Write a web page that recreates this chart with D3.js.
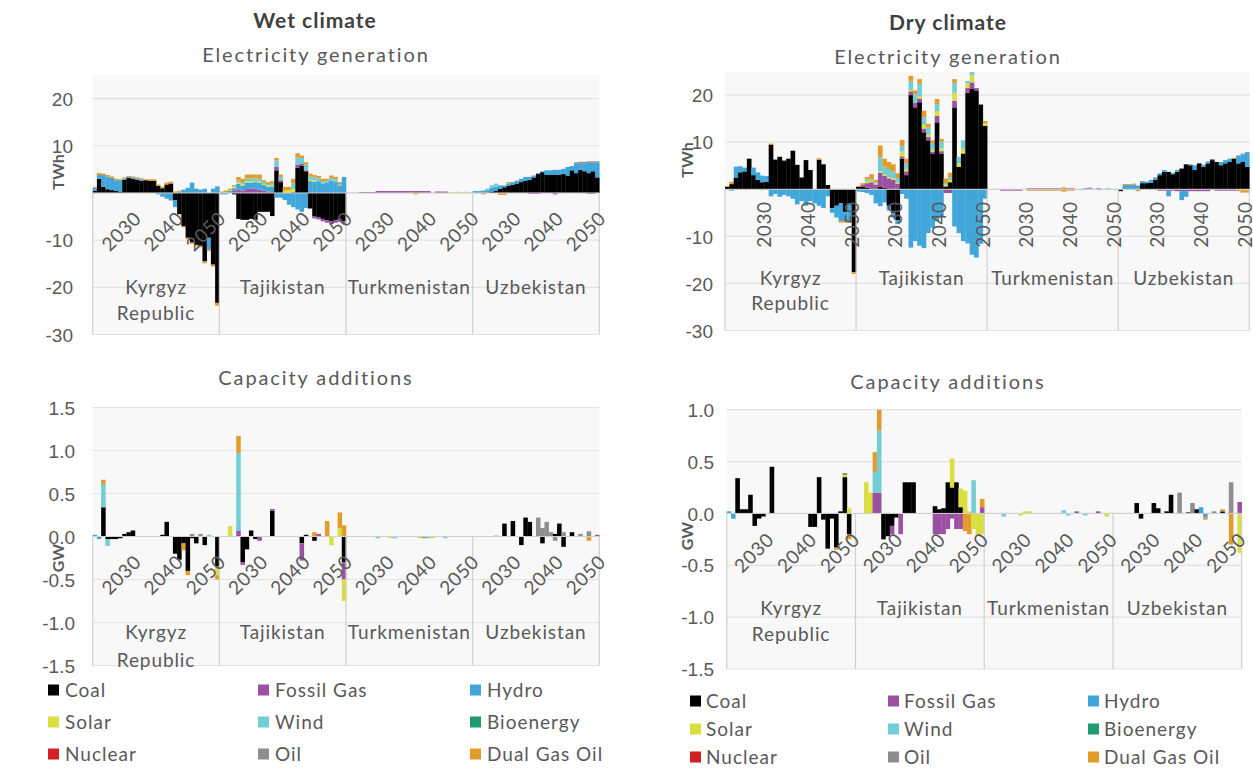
<!DOCTYPE html>
<html>
<head>
<meta charset="utf-8">
<script src="https://cdn.jsdelivr.net/npm/d3@7"></script>
<style>
  body { margin: 0; background: #ffffff; }
  svg { display: block; font-family: Lato, "Noto Sans", "DejaVu Sans", sans-serif; }
</style>
</head>
<body>
<svg id="chart" width="1253" height="769"></svg>
<script>
// ---------------------------------------------------------------------------
// Categories
// ---------------------------------------------------------------------------
const countries = ["Kyrgyz Republic", "Tajikistan", "Turkmenistan", "Uzbekistan"];
const countryLines = [["Kyrgyz", "Republic"], ["Tajikistan"], ["Turkmenistan"], ["Uzbekistan"]];
const years = [2021, 2022, 2023, 2024, 2025, 2026, 2027, 2028, 2029, 2030,
               2031, 2032, 2033, 2034, 2035, 2036, 2037, 2038, 2039, 2040,
               2041, 2042, 2043, 2044, 2045, 2046, 2047, 2048, 2049, 2050];
const yearLabels = [2030, 2040, 2050];
const technologies = ["Coal", "Fossil Gas", "Hydro", "Solar", "Wind", "Bioenergy", "Nuclear", "Oil", "Dual Gas Oil"];
const techColors = ["#000000", "#9c50a4", "#41a6da", "#d9df3f", "#72cdd6", "#1f9a73", "#d22027", "#8e8e8e", "#e39b2c"];

const genTicks = [20, 10, 0, -10, -20, -30];
const wetCapTicks = [1.5, 1.0, 0.5, 0.0, -0.5, -1.0, -1.5];
const dryCapTicks = [1.0, 0.5, 0.0, -0.5, -1.0, -1.5];

// ---------------------------------------------------------------------------
// Wet climate - electricity generation, TWh (Kyrgyz | Tajikistan | Turkmenistan | Uzbekistan)
// ---------------------------------------------------------------------------
const wetGenCoal = [
  0.5,3.0,1.3,0.8,0.6,0.5,0.3,2.8,3.2,3.0, 2.8,2.6,2.7,2.6,2.6,1.5,1.0,1.8,2.0,-1.5, -4.5,-7.0,-9.5,-10.5,-11.0,-11.2,-14.5,-9.5,-15.2,-23.3,
  0,0,0,-0.3,-5.5,-5.7,-5.7,-5.5,-5.7,-4.0, -4.0,-4.0,-4.9,4.8,2.3,0,0,0,5.3,5.8, 4.6,-3.3,-5.0,-5.2,-5.5,-5.8,-6.0,-5.8,-5.5,-6.0,
  0,0,0,0,0,0,0,0,0,0, 0,0,0,0,0,0,0,0,0,0, 0,0,0,0,0,0,0,0,0,0,
  0,0,0,0,0.3,0.4,0.9,1.2,1.5,1.7, 2.0,2.3,2.6,2.8,3.3,4.0,4.4,3.8,3.8,3.9, 3.9,4.0,3.7,4.8,4.2,4.9,4.6,4.2,4.6,3.3];
const wetGenGas = [
  0,0,0,0,0,0,0,0,0,0, 0,0,0,0,0,0,0,0,0,0, 0,0,0,0,0,0,0,0,0,0,
  0,0,0,0.4,0.7,0.5,0.8,0.9,0.9,0.7, 0.5,0.3,0.2,0.7,0.4,0,0,0.2,0.7,0.4, 0.2,0,-0.4,-0.4,-0.5,-0.5,-0.6,-0.5,-0.6,-0.6,
  0,0,0,0.2,0.2,0.2,0.2,0.4,0.4,0.4, 0.4,0.4,0.4,0.4,0.4,0.4,0.4,0.4,0.4,0.4, 0,0.3,0.3,0.3,0,0,0,0,0,0,
  0,0,0,0,0,0,0,0,0,0, 0,0,0,-0.2,-0.2,-0.2,0,0,0,-0.3, 0,0,0,0,0,0,0,-0.2,-0.2,0];
const wetGenHydro = [
  0.6,0.8,2.5,2.7,2.6,2.2,2.4,0.3,0.2,0.3, 0.3,0.3,0,0,0,-0.3,-0.8,-1.2,-1.6,-1.5, 0.3,0.7,1.1,2.2,0.9,0.7,0.9,-2.5,0.9,1.4,
  -0.3,-0.3,0.4,0.6,1.2,1.0,1.4,1.3,1.4,1.5, 1.2,1.0,1.2,-1.0,-1.0,-1.5,-2.5,-3.0,-3.5,-4.0, -3.2,2.5,2.4,2.5,2.0,2.1,2.6,2.3,1.5,3.4,
  0,0,0,0,0,0,0,0,0,0, 0,0,0,0,0,0,0,0,0,0, 0,0,0,0,0,0,0,0,0,0,
  0.4,0.4,0.5,0.6,0.8,0.9,0.7,0.4,0.5,0.6, 0.6,0.7,0.8,0.6,0.4,0.2,0.2,1.0,1.0,1.0, 1.0,1.1,1.8,0.9,2.0,1.4,1.7,2.2,1.8,3.1];
const wetGenSolar = [
  0,0,0,0,0,0,0,0,0,0, 0,0,0,0,0,0,0,0,0,0, 0,0,0,0,0,0,0,0,0,0,
  0,0.2,0.2,0.3,0.3,0.3,0.3,0.3,0.2,0.2, 0.2,0.3,0.3,0,0,0.5,0.6,0.6,0,0, 0,0.3,0.3,0,0,0,0,0,0,0,
  0,0,0,0,0,0,0,0,0,0, 0,0,0,0,0,0,0,0,0,0, 0,0,0,0,0.15,0.15,0.15,0.15,0.15,0.15,
  0,0,0,0,0,0,0,0,0,0, 0,0,0,0,0,0,0,0,0,0, 0,0,0,0,0,0,0,0,0,0];
const wetGenWind = [
  0,0,0,0,0,0,0,0,0,0, 0,0,0,0,0,0,0,0,0,0, 0,0,0,0,0,0,0,0,0,0,
  0,0,0,0.2,0.4,0.4,0.6,0.6,0.6,0.6, 0.4,0.3,0.4,1.4,0.7,0,0,1.2,1.5,1.2, 1.2,0.7,0.7,0.6,0.5,0.5,0.6,0.6,0.4,0,
  0,0,0,0,0,0,0,0,0,0, 0,0,0,0,0,0,0,0,0,0, 0,0,0,0,0,0,0.1,0,0.1,0,
  0,0,0,0.3,0.5,0.7,0,0,0,0, 0,0,0,0,0,0,0,0,0,0, 0,0,0,0,0,0,0,0,0,0];
const wetGenBioenergy = [];
const wetGenNuclear = [];
const wetGenOil = [
  0,0,0,0,0,0,0,0,0,0, 0,0,0,0,0,0,0,0,0,0, 0,0,0,0,0,0,0,0,0,0,
  0,0,0,0,0,0,0,0,0,0, 0,0,0,0,0,0,0,0,0,0, 0,0,0,0,0,0,0,0,0,0,
  0,0,0,0,0,0,0,0,0,0, 0,0,0,0,0,0,0,0,0,0, 0,0,0,0,0,0,0,0,0,0,
  0,0,0,0,0,0,0,0,0,0, 0,0,0,0,0,0,0,0,0,0, 0,0,0,0,0.3,0.3,0.3,0.3,0.3,0.3];
const wetGenDual = [
  0.2,0.4,0.3,0.3,0.3,0.3,0.2,0.2,0.2,0.2, 0.2,0.2,0.2,0.3,0.3,0.3,0.3,0.4,0.4,0.3, 0.2,-0.3,-0.3,-0.3,-0.3,-0.3,-0.4,-0.3,-0.4,-0.6,
  0.3,0.3,0.3,0.2,0.8,0.8,0.8,0.8,0.8,0.9, 0.4,0.4,0.4,0.5,0.5,0.8,0.7,1.0,0.9,0.5, 0.5,0.6,0.4,0.5,0.5,0.4,0.5,0.5,0.4,0,
  0,0,0,0,0,0,0,0,0,0, 0,0,0,0,0,0,-0.3,0,0,0, 0,0,0,0,0,0,0,0,0,0,
  0,0,-0.3,0,0,0,-0.4,-0.4,0.3,0, 0,0,0,0,0,0,0,0,0,0, 0,0,0,0,0,0,0,0,0,0];

// ---------------------------------------------------------------------------
// Wet climate - capacity additions, GW
// ---------------------------------------------------------------------------
const wetCapCoal = [
  0,0,0.34,-0.03,-0.03,-0.03,-0.02,0.03,0.05,0.07, 0,0,0,0,0,0,0.02,0.17,0,-0.2, -0.27,-0.08,-0.4,-0.02,-0.08,0,-0.1,0,0,-0.35,
  0,0,0,0,0,-0.3,-0.15,0.07,-0.03,0, 0,0,0.3,0,0,0,0,0,0,-0.08, 0.02,0,-0.05,0,0,0,0,0,0,-0.3,
  0,0,0,0,0,0,0,0,0,0, 0,0,0,0,0,0,0,0,0,0, 0,0,0,0,0,0,0,0,0,0,
  0,0,0,0,0,0,0,0.15,0,0.18, 0,-0.1,0.22,0.17,0,0,-0.08,0,0,0.03, 0.15,-0.12,0,0.05,0,0,0,0,0,0];
const wetCapGas = [
  0,0,0,0,0,0,0,0,0,0, 0,0,0,0,0,0,0,0,0,0, 0,0,0,0,0,0,0,0,0,0,
  0,0,0,0,0.07,-0.03,0,0,0,-0.05, 0,0,0.02,0,0,0,0,0,0,-0.2, 0,0,0,0.03,0,0,0,0,0,-0.2,
  0,0,0,0,0,0,0,0,0,0, 0,0,0,0,0,0,0,0,0,0, 0,0,0,0,0,0,0,0,0,0,
  0,0,0,0,0,0,0,0,0,0, 0,0,0,0,0,0,0,0,0,0, 0,0,0,0,0,0,0,0,0,0.02];
const wetCapHydro = [
  0.02,-0.03,0,0,0,0,0,0,0,0, 0,0,0,0,0,0,0,0,0,0, 0,0,0,0,0,0,0,0,0,0,
  0,0,0,0,0,0,0,0,0,0, 0,0,0,0,0,0,0,0,0,0, 0,0,0,0,0,0,0,0,0,0,
  0,0,0,0,0,0,0,0,0,0, 0,0,0,0,0,0,0,0,0,0, 0,0,0,0,0,0,0,0,0,0,
  0,0,0,0,0,0,0,0,0,0, 0,0,0,0,0,0,0,0,0,0, 0,0,0,0,0,0,0,0,0,0];
const wetCapSolar = [
  0,0,0,0,0,0,0,0,0,0, 0,0,0,0,0,0,0,0,0,0, 0,0,0,0,0,0,0,0,0,-0.1,
  0,0,0.12,0,0,0,0,0,0,0, 0,0,0,0,0,0,0,0,0,0, 0,0,0,0,0,0,-0.1,0,0.1,-0.25,
  0,0,0,0,0,0,0,0,0,0, -0.02,0,0,0,0,0,0,-0.02,0,0, -0.02,0,0,0,0,0,0,0,0,0,
  0,0,0,0,0,0,0,0,0,0, 0,0,0,0,0,0,0,0,0,0, 0,0,0,0,0,0,0,0,0,0];
const wetCapWind = [
  0,0,0.27,-0.08,0,0,0,0,0,0, 0,0,0,0,0,0,0,0,0,0, 0,0,0,0,0,0,0,0.02,0,0,
  0,0,0,0,0.9,0,0,0,0,0, 0,0,0,0,0,0,0,0,0,0, 0,0,0,0,0,0,0,0,0,0,
  0,0,0,0,0,0,0,-0.02,0,0, 0,-0.02,0,0,0,0,0,0,0,-0.02, 0,0,0,-0.02,0,0,0,0,0,0,
  0,0,0,0,0,0,0,0,0,0, 0,0,0,0,0,0,0,0,0,0, 0,0,0,0,0,0,0,0,0,0];
const wetCapBioenergy = [];
const wetCapNuclear = [];
const wetCapOil = [
  0,0,0,0,0,0,0,0,0,0, 0,0,0,0,0,0,0,0,0,0, 0,0,0,0.03,0,0.03,0,0,0,0,
  0,0,0,0,0,0,0,0,0,0, 0,0,0,0,0,0,0,0,0,0, 0,0,0,0,0,0,0,0,0,0,
  0,0,0,0,0,0,0,0,0,0, 0,0,0,0,0,0,0,0,-0.02,0, 0,0,0,0,0,0,0,0,0,0,
  0,0,0,0,0,0.01,0,0,0,0, 0,0,0,0,0,0.22,0.1,0.17,0.05,-0.05, 0,0.05,0,0,0,0.03,0,0.06,0,0];
const wetCapDual = [
  0,0,0.05,0,0,0,0,0,0,0, 0,0,0,0,0,0,0,0,0,0, 0,-0.08,-0.05,0,0,0,0,0,0,-0.05,
  0,0,0,0,0.2,0,0,0,0,0, 0,0,0,0,0,0,0,0,0,0, 0,0,0.05,0,0,0.18,0,0,0.18,0.13,
  0,0,0,0,0,0,0,0,0,0, 0,0,0,0,0,0,0,0,0,0, 0,0,0,0,0,0,0,0,0,0,
  0,0,0,0,0,0,0,0,0,0, 0,0,0,0,0,0,0,0,0,0, 0,0,0,0,0,0,0,-0.05,0,0];

// ---------------------------------------------------------------------------
// Dry climate - electricity generation, TWh
// ---------------------------------------------------------------------------
const dryGenCoal = [
  0.5,1.1,2.5,3.6,3.8,6.5,3.0,2.0,1.5,1.6, 9.5,6.3,6.9,6.1,6.5,8.2,5.2,2.5,6.2,4.1, 0,6.3,5.3,0.9,-4.0,-3.5,-3.0,-4.8,-3.0,-17.6,
  0.5,0.5,0.3,0,0,0.5,0.3,-3.5,-5.0,-6.6, 6.5,3.0,20.0,17.4,18.5,12.1,10.4,7.6,14.2,7.6, 0.6,1.5,17.4,4.8,7.6,20.5,21.3,21.0,18.0,13.5,
  0,0,0,0,0,0,0,0,0,0, 0,0,0,0,0,0,0,0,0,0, 0,0,0,0,0,0,0,0,0,0,
  -0.4,0,0,0,0,1.3,1.3,1.4,2.0,3.0, 3.7,3.7,3.2,3.7,4.4,5.3,5.1,4.1,5.5,4.8, 5.5,6.2,5.8,5.1,5.5,5.8,6.5,5.5,5.8,4.8];
const dryGenGas = [
  0,0,0,0,0,0,0,0,0,0, 0,0,0,0,0,0,0,0,0,0, 0,0,0,0,0,0,0,0,0,0,
  0,0.4,1.0,1.5,1.0,3.0,2.6,2.3,2.0,1.2, 0.5,0.8,0.8,1.0,0.8,0.8,0.7,0.4,1.4,0.5, -0.8,-0.8,1.4,0,0,1.0,1.4,0.5,0,0,
  0,0,0,-0.3,-0.3,-0.3,-0.3,-0.3,0,0.2, 0.2,0.2,0.2,0.2,0.2,0.2,0.2,0.2,0.2,0.2, 0,0,0.2,0.2,0,0.2,0,0,0,0,
  0,0,0,0,0,0,0,0,0,-0.3, -0.3,-0.3,-0.3,-0.4,-0.4,-0.4,-0.4,-0.4,-0.4,-0.4, -0.4,0.2,-0.3,-0.3,-0.3,-0.3,-0.3,0,0,0];
const dryGenHydro = [
  0,-0.3,2.3,1.3,0.8,0,1.6,1.6,1.4,1.2, -1.5,-1.0,-1.6,-1.2,-1.5,-2.0,-3.2,-2.5,-3.5,-2.5, -3.0,-3.5,-4.0,-1.5,-1.0,-2.5,-3.8,-2.0,-3.8,0,
  -0.5,-0.6,-0.8,-1.2,-3.0,-3.6,-2.8,-1.0,-1.0,-0.8, -1.0,-2.0,-12.4,-11.0,-12.0,-12.5,-9.3,-8.2,-6.8,-5.8, 0,0,-7.9,-9.3,-11.0,-11.5,-13.9,-14.5,-11.6,-2.0,
  0,0,0,0,0,0,0,0,0,0, 0,0,0,0,0,0,0,0,0,0, 0,0,0,0,0,0,0,0,0,0,
  0,0.9,0.9,1.0,0.8,0.45,0.3,0.6,0.5,0.4, 0.4,-1.2,0.3,0.4,-1.9,-1.2,0.2,1.0,0,0.4, 0.4,0,0,0.7,0.7,0.7,0,1.7,1.6,3.1];
const dryGenSolar = [
  0,0,0,0,0,0,0,0,0,0, 0,0,0,0,0,0,0,0,0,0, 0,0,0,0,0,0,0,0,0,0,
  0,0,0.4,0.3,0.3,0.3,0.3,0.3,0.3,0.2, 1.0,0.5,0.3,0,0.5,0.8,0.5,0.4,1.0,0.6, 0.4,0.5,1.7,0.7,1.0,1.0,1.5,0,0,0.5,
  0,0,0,0,0,0,0,0,0,0, 0,0,0,0,0,0,0,0.3,0,0, 0,0,0,0,0,0,0,0,0,0,
  0,0,0,0,0,0,0,0,0,0, 0,0,0,0,0,0,0,0,0,0, 0,0,0,0,0,0,0,0,-0.2,-0.2];
const dryGenWind = [
  0,0,0,0,0,0,0,0,0,0, 0,0,0,0,0,0,0,0,0,0, 0,0,0,0,0,0,0,0,0,0,
  0,0,0.4,0.4,0.2,3.0,1.6,1.7,1.5,1.0, 1.2,1.2,1.8,1.8,2.6,1.6,1.5,1.4,1.5,1.4, 0.3,0.5,2.1,1.4,1.8,0.5,0.7,0,0,0,
  0,0,0,0,0,0,0,0,0,0, 0,0,0,0,0,0,0,0,0,0, 0,-0.2,0,0.2,0,-0.2,0,0.2,0,-0.2,
  0,0,0,0,0,0,0,0,0,0, 0,0,0,0,0,0,0,0,0,0, 0,0,0,0,0,0,0,0,0,0];
const dryGenBioenergy = [];
const dryGenNuclear = [];
const dryGenOil = [
  0,0,0,0,0,0,0,0,0,0, 0,0,0,0,0,0,0,0,0,0, 0,0,0,0,0,0,0,0,0,0,
  0,0,0,0,0,0,0,0,0,0, 0,0,0,0,0,0,0,0,0,0, 0,0,0,0,0,0,0,0,0,0,
  0,0,0,0,0,0,0,0,0,0, 0,0,0,0,0,0,0,0,0,0, 0,0,0,0,0,0,0,0,0,0,
  0,0,0,0,0,0,0,0,0,0, 0,0,0,0,0,0,0,0,0,0, 0,0,0,0,0,0,0,0,0.2,0];
const dryGenDual = [
  0.2,0.5,0,0,0,0,0,0,-0.2,0, 0.2,0,0,0,0,0,0,0,0,0, 0,0.3,0,0,0,0,-0.3,-0.3,-0.3,-0.4,
  0.2,0.4,0.5,1.0,0.5,2.5,1.7,1.5,1.5,1.0, 1.3,1.0,1.2,0.8,1.0,1.4,0.8,0.6,1.1,0.6, 1.0,1.0,0.8,0,0,0,0,0,0,0.5,
  0,0,0,0,0,0,0,0,0,-0.3, -0.3,-0.3,-0.3,-0.3,-0.3,-0.3,-0.3,-0.5,-0.3,-0.3, 0,0,0,0,0,0,0,0,0,0,
  0,0.2,0.2,0.2,-0.4,0,0,0,0.1,0, 0,0,0,0,0,0,0,0,0,0, 0,0,0,0,0,0,0.2,-0.4,-0.5,-0.5];

// ---------------------------------------------------------------------------
// Dry climate - capacity additions, GW
// ---------------------------------------------------------------------------
const dryCapCoal = [
  0,0,0.34,0.04,0.04,0.18,-0.12,-0.05,-0.03,0, 0.45,0,0,0,0,0,0,0,0,-0.13, -0.13,0.35,-0.06,-0.34,-0.05,-0.33,0.02,0.35,-0.2,0,
  0,0,0,0,0,0,-0.25,-0.22,-0.12,-0.04, 0,0.3,0.3,0.3,0,0,0,0,0.07,0.04, 0.05,0.3,0.25,0.3,0.06,0,0,0,0,0,
  0,0,0,0,0,0,0,0,0,0, 0,0,0,0,0,0,0,0,0,0, 0,0,0,0,0,0,0,0,0,0,
  0,0,0,0,0,0.1,-0.05,0,0,0.1, 0.05,0,0.02,0.18,0,0,0,0.01,0,0.04, 0,0,0,0,0,0.02,0,0,0,0];
const dryCapGas = [
  0,0,0,0,0,0,0,0,0,0, 0,0,0,0,0,0,0,0,0,0, 0,0,0,0,0,0,0,0,0,0,
  0,0,0,0,0.2,0.2,0,0,-0.08,0, -0.2,0,0,0,0,0,0,0,-0.2,-0.2, -0.2,-0.15,-0.05,-0.15,-0.15,0,0,0,0,0.06,
  0,0,0,0,0,0,0,0,0,0, 0,0,0,0,0,0,0,0,0,0, 0,0.02,0,0,0,0,0.02,0,0,0,
  0,0,0,0,0,0,0,0,0,0, 0,0,0,0,0,0,0,0,0,0, 0,0,0,0,0,0,0,0,0,0.11];
const dryCapHydro = [
  0.02,-0.05,0,0,0,0,0,0,0,0, 0,0,0,0,0,0,0,0,0,0, 0,0,0,0,0,0,0,0,0,0,
  0,0,0,0,0,0,0,0,0,0, 0,0,0,0,0,0,0,0,0,0, 0,0,0,0,0,0,0,0,0,0,
  0,0,0,0,0,0,0,0,0,0, 0,0,0,0,0,0,0,0,0,0, 0,0,0,0,0,0,0,0,0,0,
  0,0,0,0,0,0,0,0,0,0, 0,0,0,0,0,0,0,0,0,0, 0.06,-0.04,0,0,0,0,0,0,0,0];
const dryCapSolar = [
  0,0,0,0,0,0,0,0,0,0, 0,0,0,0,0,0,0,0,0,0, 0,0,0,0,0,0,0,0.02,0.05,0,
  0,0,0.3,0.2,0,0,0,0,0,0, 0,0,0,0,0,0,0,0,0,0, 0,0,0.28,0,0.18,0.22,0.02,-0.15,-0.22,-0.2,
  0,0,0,0,0,0,0,0,-0.02,0.02, 0.02,0,0,0,0,0,0,0,0,0, 0,0,0,0,0,0,0,0,-0.03,0,
  0,0,0,0,0,0,0,0,0,0, 0,0,0,0,0,0,0,0,0,0, 0,0,0,0,0,0,0,0,0,-0.38];
const dryCapWind = [
  0,0,0,0,0,0,0,0,0,0, 0,0,0,0,0,0,0,0,0,0, 0,0,0,0,0,0,0,0,0,0,
  0,0,0,0,0.2,0.6,0,0,0,0, 0,0,0,0,0,0,0,0,0,0, 0,0,0,0,0,0,0,0.32,0,0,
  0,0,0,0,-0.03,0,0,0,0,0, 0,0,0,0,0,0,0,0,0.03,-0.02, 0,0,0,-0.02,0,0,0,0,0,0,
  0,0,0,0,0,0,0,0,0,0, 0,0,0,0,0,0,0,0,0,0, 0,0,0,0,0,0,0,0,0,0];
const dryCapBioenergy = [];
const dryCapNuclear = [];
const dryCapOil = [
  0,0,0,0,0,0,0,0,0,0, 0,0,0,0,0,0,0,0,0,0, 0,0,0,0,0,0,0,0.02,0,0,
  0,0,0,0,0,0,0,0,0,0, 0,0,0,0,0,0,0,0,0,0, 0,0,0,0,0,0,0,0,0,0,
  0,0,0,0,0,0,0,0,0,0, 0,0,0,0,0,0,0,0,0,0, 0,0,0,0,0,0,0,0,0,0,
  0,0,0,0,0,0,0,0,0,0, 0,0,0,0,0,0.2,0,0,0.1,0, 0,0,0,0.02,0,0,0,0.3,0,0];
const dryCapDual = [
  0,0,0,0,0,0,0,0,0,0, 0,0,0,0,0,0,0,0,0,0, 0,0,0,0,0,-0.02,0,0,-0.05,0,
  0,0,0,0,0.19,0.2,0,0,0,0, 0,0,0,0,0,0,0,0,0,0, 0,0,0,0,0,-0.17,-0.2,0,0,0.08,
  0,0,0,0,0,0,0,0,0,0, 0,0,0,0,0,0,0,0,0,0, 0,0,0,0,0,0,0,0,0,0,
  0,0,0,0,0,0,0,0,0,0, 0,0,0,0,0,0,0,0,0,0, 0,-0.02,0,0,0,0.02,0,-0.3,0,0];

// ---------------------------------------------------------------------------
// Drawing
// ---------------------------------------------------------------------------
const svg = d3.select("#chart");
const TEXT = "#595959";
const genFormat = d => (d === 0 ? "" : String(d));
const capFormat = d => (d < 0 ? "-" : "") + Math.abs(d).toFixed(1);

function drawPanel(p) {
  const g = svg.append("g");
  const nCat = countries.length * years.length;
  const x = d3.scaleBand().domain(d3.range(nCat)).range([p.left, p.right]).padding(0);
  const y = d3.scaleLinear().domain(p.domain).range([p.bottom, p.top]);
  const zeroY = y(0);
  const groupW = (p.right - p.left) / countries.length;

  // plot area
  g.append("rect")
    .attr("x", p.left).attr("y", p.top)
    .attr("width", p.right - p.left).attr("height", p.bottom - p.top)
    .attr("fill", "#f8f8f8");

  // horizontal gridlines
  g.append("g").selectAll("line").data(p.ticks).join("line")
    .attr("x1", p.left).attr("x2", p.right)
    .attr("y1", d => y(d)).attr("y2", d => y(d))
    .attr("stroke", "#e3e3e3").attr("stroke-width", 1.2);

  // stacked segments: positives build upward, negatives downward, in legend order
  const segs = [];
  for (let k = 0; k < nCat; k++) {
    let up = 0, down = 0;
    p.series.forEach((vals, t) => {
      const v = vals[k] || 0;
      if (v > 0) { segs.push({ k, t, a: up, b: up + v }); up += v; }
      else if (v < 0) { segs.push({ k, t, a: down, b: down + v }); down += v; }
    });
  }
  g.append("g").selectAll("rect").data(segs).join("rect")
    .attr("x", d => x(d.k))
    .attr("width", x.bandwidth() + 0.3)
    .attr("y", d => y(Math.max(d.a, d.b)))
    .attr("height", d => Math.abs(y(d.a) - y(d.b)))
    .attr("fill", d => techColors[d.t]);

  // category axis line and country dividers
  g.append("line")
    .attr("x1", p.left).attr("x2", p.right)
    .attr("y1", zeroY).attr("y2", zeroY)
    .attr("stroke", "#d0d0d0").attr("stroke-width", 1);
  g.append("g").selectAll("line").data(d3.range(countries.length + 1)).join("line")
    .attr("x1", i => p.left + i * groupW).attr("x2", i => p.left + i * groupW)
    .attr("y1", zeroY).attr("y2", p.dividerBottom)
    .attr("stroke", "#d0d0d0").attr("stroke-width", 1.2);

  // y axis
  const axis = d3.axisLeft(y).tickValues(p.ticks).tickSize(0).tickPadding(0).tickFormat(p.format);
  const ax = g.append("g").attr("transform", `translate(${p.labelRight},0)`).call(axis);
  ax.select(".domain").remove();
  ax.selectAll("text")
    .attr("fill", TEXT).style("font-size", "19px").style("font-family", null)
    .attr("dy", "0.35em");

  // unit label
  g.append("text")
    .attr("transform", `translate(${p.unitX},${p.unitY}) rotate(-90)`)
    .attr("text-anchor", "middle").attr("dy", "0.35em")
    .attr("fill", TEXT).style("font-size", "16px").style("font-weight", "bold")
    .text(p.unit);

  // year labels on the category axis
  const yearIdx = yearLabels.map(yr => years.indexOf(yr));
  const labels = [];
  countries.forEach((c, ci) => yearIdx.forEach((yi, j) => {
    labels.push({ text: yearLabels[j], cx: x(ci * years.length + yi) + x.bandwidth() / 2 });
  }));
  g.append("g").selectAll("text").data(labels).join("text")
    .attr("transform", d => p.rotate === -90
      ? `translate(${d.cx + p.labelDx},${zeroY + p.labelDy}) rotate(-90)`
      : `translate(${d.cx + p.labelDx},${zeroY + p.labelDy}) rotate(-45)`)
    .attr("text-anchor", "end").attr("dy", "0.35em")
    .attr("fill", TEXT).style("font-size", "19px").style("letter-spacing", "0.6px")
    .text(d => d.text);

  // country labels
  countryLines.forEach((lines, ci) => {
    lines.forEach((ln, li) => {
      g.append("text")
        .attr("x", p.left + (ci + 0.5) * groupW)
        .attr("y", p.countryY[li])
        .attr("text-anchor", "middle").attr("dy", "0.35em")
        .attr("fill", TEXT).style("font-size", "19px").style("letter-spacing", "0.9px")
        .text(ln);
    });
  });

  // panel title
  g.append("text")
    .attr("x", p.titleX).attr("y", p.titleY)
    .attr("text-anchor", "middle").attr("dy", "0.35em")
    .attr("fill", TEXT).style("font-size", "20px").style("letter-spacing", "1.9px")
    .text(p.title);
}

function drawLegend(l) {
  const g = svg.append("g");
  technologies.forEach((name, i) => {
    const col = i % 3, row = Math.floor(i / 3);
    const lx = l.cols[col], ly = l.rows[row];
    g.append("rect")
      .attr("x", lx).attr("y", ly - 5.5).attr("width", 11).attr("height", 11)
      .attr("fill", techColors[i]);
    g.append("text")
      .attr("x", lx + l.gap).attr("y", ly).attr("dy", "0.35em")
      .attr("fill", TEXT).style("font-size", "19px").style("letter-spacing", "1px")
      .text(name);
  });
}

// climate headings
svg.append("text").attr("x", 315).attr("y", 21).attr("text-anchor", "middle").attr("dy", "0.35em")
  .attr("fill", "#404040").style("font-size", "21px").style("font-weight", "bold").style("letter-spacing", "1px")
  .text("Wet climate");
svg.append("text").attr("x", 948).attr("y", 23).attr("text-anchor", "middle").attr("dy", "0.35em")
  .attr("fill", "#404040").style("font-size", "21px").style("font-weight", "bold").style("letter-spacing", "1px")
  .text("Dry climate");

drawPanel({
  title: "Electricity generation", titleX: 316, titleY: 55,
  left: 92.7, right: 599.3, top: 75, bottom: 334.5, domain: [-30, 25],
  ticks: genTicks, format: genFormat, labelRight: 73, unit: "TWh", unitX: 58, unitY: 172,
  rotate: -45, labelDx: 5, labelDy: 22, countryY: [287, 313], dividerBottom: 334.5,
  series: [wetGenCoal, wetGenGas, wetGenHydro, wetGenSolar, wetGenWind, wetGenBioenergy, wetGenNuclear, wetGenOil, wetGenDual]
});
drawPanel({
  title: "Capacity additions", titleX: 316, titleY: 378,
  left: 92.7, right: 599.3, top: 407.5, bottom: 665.5, domain: [-1.5, 1.5],
  ticks: wetCapTicks, format: capFormat, labelRight: 75, unit: "GW", unitX: 58, unitY: 558,
  rotate: -45, labelDx: 5, labelDy: 22, countryY: [632, 660], dividerBottom: 665.5,
  series: [wetCapCoal, wetCapGas, wetCapHydro, wetCapSolar, wetCapWind, wetCapBioenergy, wetCapNuclear, wetCapOil, wetCapDual]
});
drawPanel({
  title: "Electricity generation", titleX: 948, titleY: 57,
  left: 725, right: 1249.3, top: 71.6, bottom: 330.5, domain: [-30, 25],
  ticks: genTicks, format: genFormat, labelRight: 713, unit: "TWh", unitX: 687, unitY: 160,
  rotate: -90, labelDx: -2, labelDy: 12, countryY: [278, 303], dividerBottom: 330.5,
  series: [dryGenCoal, dryGenGas, dryGenHydro, dryGenSolar, dryGenWind, dryGenBioenergy, dryGenNuclear, dryGenOil, dryGenDual]
});
drawPanel({
  title: "Capacity additions", titleX: 948, titleY: 382,
  left: 726.7, right: 1241.7, top: 409.7, bottom: 669, domain: [-1.5, 1.0],
  ticks: dryCapTicks, format: capFormat, labelRight: 714, unit: "GW", unitX: 687, unitY: 536,
  rotate: -45, labelDx: 3, labelDy: 23, countryY: [608, 634], dividerBottom: 669,
  series: [dryCapCoal, dryCapGas, dryCapHydro, dryCapSolar, dryCapWind, dryCapBioenergy, dryCapNuclear, dryCapOil, dryCapDual]
});

drawLegend({ cols: [48, 258, 470], rows: [690, 722, 754], gap: 17 });
drawLegend({ cols: [690, 888, 1088], rows: [701, 729, 757], gap: 16 });
</script>
</body>
</html>
